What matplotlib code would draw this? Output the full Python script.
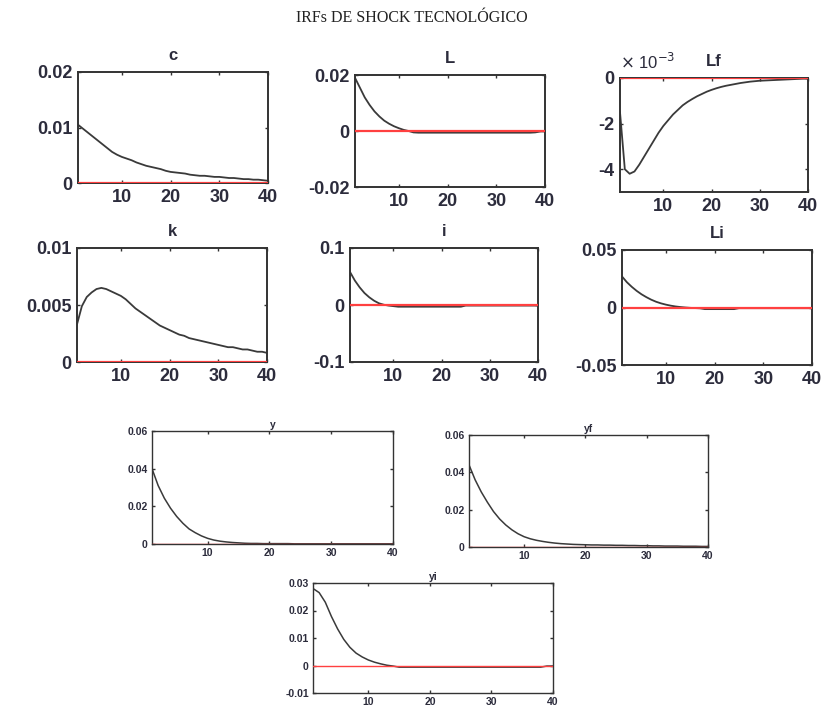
import matplotlib
matplotlib.use("Agg")
import matplotlib.pyplot as plt

periods = list(range(1, 41))

c = [0.0105, 0.0098, 0.0091, 0.0084, 0.0077, 0.0070, 0.0063, 0.0056, 0.0051, 0.0047,
     0.0044, 0.0041, 0.0037, 0.0034, 0.0031, 0.0029, 0.0027, 0.0025, 0.0022, 0.0020,
     0.0019, 0.0018, 0.0017, 0.0015, 0.0014, 0.0013, 0.0013, 0.0012, 0.0011, 0.0011,
     0.0010, 0.0009, 0.0009, 0.0008, 0.0007, 0.0007, 0.0006, 0.0006, 0.0005, 0.0004]

L = [0.0190, 0.0155, 0.0120, 0.0093, 0.0070, 0.0052, 0.0037, 0.0026, 0.0017, 0.0010,
     0.0004, 0.0000, -0.0005, -0.0006, -0.0006, -0.0006, -0.0006, -0.0006, -0.0006, -0.0006,
     -0.0006, -0.0006, -0.0006, -0.0006, -0.0006, -0.0006, -0.0006, -0.0006, -0.0006, -0.0006,
     -0.0006, -0.0006, -0.0006, -0.0006, -0.0006, -0.0006, -0.0006, -0.0005, -0.0002, -0.0001]

# Lf in units of 1e-3
Lf = [-1.5, -4.0, -4.2, -4.1, -3.8, -3.45, -3.1, -2.75, -2.4, -2.1,
      -1.85, -1.6, -1.4, -1.2, -1.05, -0.92, -0.8, -0.7, -0.6, -0.52,
      -0.45, -0.39, -0.34, -0.3, -0.26, -0.22, -0.19, -0.16, -0.14, -0.12,
      -0.11, -0.1, -0.09, -0.08, -0.07, -0.06, -0.05, -0.04, -0.03, -0.03]

k = [0.0033, 0.0049, 0.0057, 0.0061, 0.0064, 0.0065, 0.0064, 0.0062, 0.0060, 0.0058,
     0.0055, 0.0051, 0.0047, 0.0044, 0.0041, 0.0038, 0.0035, 0.0032, 0.0030, 0.0028,
     0.0026, 0.0024, 0.0023, 0.0021, 0.0020, 0.0019, 0.0018, 0.0017, 0.0016, 0.0015,
     0.0014, 0.0013, 0.0013, 0.0012, 0.0011, 0.0011, 0.0010, 0.0009, 0.0009, 0.0008]

ii = [0.058, 0.043, 0.031, 0.021, 0.0135, 0.0075, 0.003, 0.0005, -0.001, -0.002,
      -0.003, -0.003, -0.003, -0.003, -0.003, -0.003, -0.003, -0.003, -0.003, -0.003,
      -0.003, -0.003, -0.003, -0.003, -0.001, -0.001, -0.001, -0.001, -0.001, -0.001,
      -0.001, -0.001, -0.001, -0.001, -0.001, -0.001, -0.001, -0.001, -0.001, -0.001]

Li = [0.027, 0.022, 0.018, 0.0145, 0.0115, 0.009, 0.0068, 0.005, 0.0036, 0.0025,
      0.0016, 0.0009, 0.0004, 0.0, -0.0003, -0.0005, -0.0007, -0.0014, -0.0014, -0.0014,
      -0.0014, -0.0014, -0.0014, -0.0014, -0.0006, -0.0006, -0.0006, -0.0006, -0.0006, -0.0006,
      -0.0006, -0.0006, -0.0006, -0.0006, -0.0006, -0.0006, -0.0006, -0.0006, -0.0006, -0.0006]

y = [0.040, 0.031, 0.0243, 0.019, 0.0146, 0.011, 0.0080, 0.0060, 0.0043, 0.0030,
     0.0021, 0.0015, 0.0011, 0.0008, 0.0006, 0.0004, 0.0003, 0.0003, 0.0002, 0.0002,
     0.0002, 0.0002, 0.0002, 0.0001, 0.0001, 0.0001, 0.0001, 0.0001, 0.0001, 0.0001,
     0.0001, 0.0001, 0.0001, 0.0001, 0.0001, 0.0001, 0.0001, 0.0001, 0.0001, 0.0001]

yf = [0.044, 0.036, 0.0295, 0.024, 0.019, 0.015, 0.0118, 0.0092, 0.0071, 0.0055,
      0.0044, 0.0036, 0.0030, 0.0025, 0.0021, 0.0018, 0.0016, 0.0014, 0.0013, 0.0012,
      0.0011, 0.0011, 0.0010, 0.0010, 0.0009, 0.0009, 0.0008, 0.0008, 0.0007, 0.0007,
      0.0006, 0.0006, 0.0005, 0.0005, 0.0005, 0.0004, 0.0004, 0.0004, 0.0003, 0.0003]

yi = [0.028, 0.0265, 0.023, 0.0178, 0.0133, 0.0095, 0.0066, 0.0045, 0.0031, 0.0020,
      0.0012, 0.0006, 0.0001, -0.0002, -0.0006, -0.0006, -0.0006, -0.0006, -0.0006, -0.0006,
      -0.0006, -0.0006, -0.0006, -0.0006, -0.0006, -0.0006, -0.0006, -0.0006, -0.0006, -0.0006,
      -0.0006, -0.0006, -0.0006, -0.0006, -0.0006, -0.0006, -0.0006, -0.0006, -0.0002, -0.0002]

W, H = 824, 713
# (series, title, ylim, yticks, tick labels, box in pixels l, t, r, b, large font)
panels = [
    (c, 'c', (0, 0.02), [0, 0.01, 0.02], ['0', '0.01', '0.02'], (78, 72, 268, 183), True),
    (L, 'L', (-0.02, 0.02), [-0.02, 0, 0.02], ['-0.02', '0', '0.02'], (355, 75, 545, 187), True),
    (Lf, 'Lf', (-5, 0), [-4, -2, 0], ['-4', '-2', '0'], (620, 78, 808, 192), True),
    (k, 'k', (0, 0.01), [0, 0.005, 0.01], ['0', '0.005', '0.01'], (77, 248, 267, 362), True),
    (ii, 'i', (-0.1, 0.1), [-0.1, 0, 0.1], ['-0.1', '0', '0.1'], (350, 248, 538, 362), True),
    (Li, 'Li', (-0.05, 0.05), [-0.05, 0, 0.05], ['-0.05', '0', '0.05'], (622, 250, 812, 365), True),
    (y, 'y', (0, 0.06), [0, 0.02, 0.04, 0.06], ['0', '0.02', '0.04', '0.06'], (152, 431, 393, 544), False),
    (yf, 'yf', (0, 0.06), [0, 0.02, 0.04, 0.06], ['0', '0.02', '0.04', '0.06'], (469, 435, 708, 547), False),
    (yi, 'yi', (-0.01, 0.03), [-0.01, 0, 0.01, 0.02, 0.03], ['-0.01', '0', '0.01', '0.02', '0.03'], (313, 583, 553, 693), False),
]

text_col = '#2c2c3c'
fig = plt.figure(figsize=(W / 100, H / 100), dpi=100)
fig.text(0.5, 1 - 18 / H, 'IRFs DE SHOCK TECNOLÓGICO', ha='center', va='center',
         family='Liberation Serif', fontsize=11.5, color='#222222')

for series, name, ylim, yt, ytl, (l, t, r, b), big in panels:
    ax = fig.add_axes([l / W, 1 - b / H, (r - l) / W, (b - t) / H])
    fs = 13 if big else 7.5
    lw_box = 1.4 if big else 1.0
    ax.plot(periods, series, color='#3a3a3a', lw=1.3 if big else 1.1, zorder=2)
    ax.axhline(0, color='#ff4040', lw=1.6 if big else 1.0, zorder=3)
    ax.set_xlim(1, 40)
    ax.set_ylim(*ylim)
    ax.set_xticks([10, 20, 30, 40])
    ax.set_xticklabels(['10', '20', '30', '40'])
    ax.set_yticks(yt)
    ax.set_yticklabels(ytl)
    ax.tick_params(direction='in', top=True, right=True, length=2.5 if big else 2,
                   width=1.0, colors='#333333', labelcolor=text_col,
                   labelsize=fs, pad=4 if big else 3)
    for lab in ax.get_xticklabels() + ax.get_yticklabels():
        lab.set_family('Liberation Sans')
        lab.set_fontweight('bold')
    for sp in ax.spines.values():
        sp.set_linewidth(lw_box)
        sp.set_color('#333333')
    ax.set_title(name, fontsize=fs - 1 if big else fs, fontweight='bold',
                 family='Liberation Sans', color=text_col, pad=9 if big else 2)
    if name == 'Lf':
        ax.text(0.0, 1.05, r'$\times$ 10$^{-3}$', transform=ax.transAxes, ha='left',
                va='bottom', fontsize=fs - 1, color=text_col, family='Liberation Sans')

fig.savefig('out.png', dpi=100)
